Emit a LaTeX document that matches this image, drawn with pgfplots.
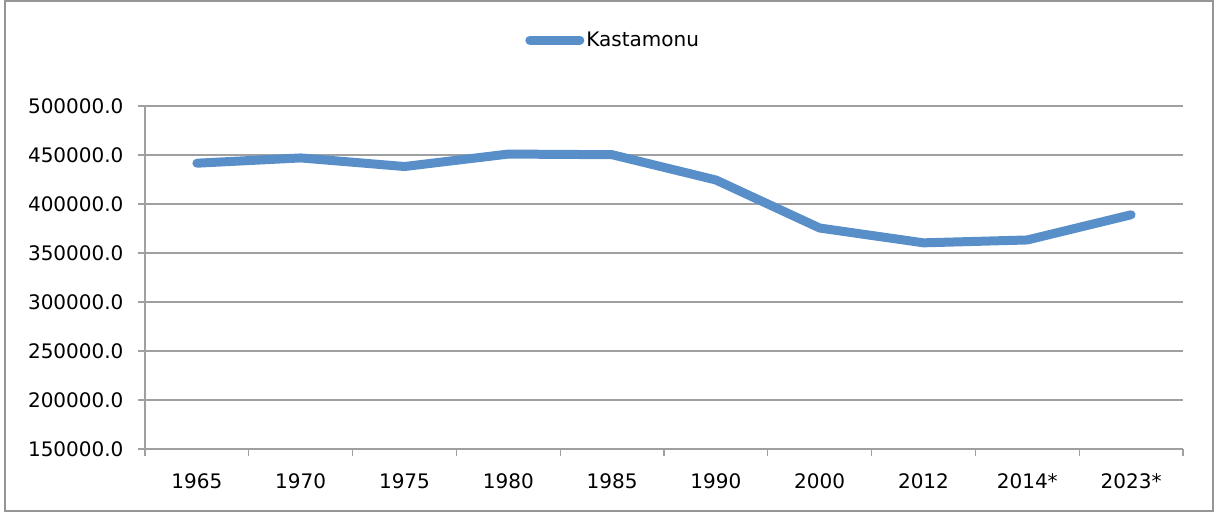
\documentclass[border=0pt]{standalone}
\usepackage{pgfplots}
\pgfplotsset{compat=1.18}
\usepackage{fontspec}
\setmainfont{DejaVu Sans}
\definecolor{lineblue}{RGB}{89,143,200}
\definecolor{gridgray}{RGB}{160,160,160}
\definecolor{framegray}{RGB}{150,150,150}

\begin{document}
\begin{tikzpicture}
\useasboundingbox (0bp,0bp) rectangle (1216bp,516bp);
\draw[framegray, line width=1.2bp] (5bp,5bp) rectangle (1213bp,515bp);
\begin{axis}[
    at={(145bp,67bp)}, anchor=south west,
    scale only axis, width=1038bp, height=343bp,
    xmin=-0.5, xmax=9.5,
    ymin=150000, ymax=500000,
    scaled y ticks=false,
    ytick={150000,200000,250000,300000,350000,400000,450000,500000},
    yticklabels={150000.0,200000.0,250000.0,300000.0,350000.0,400000.0,450000.0,500000.0},
    % category boundaries carry the tick marks
    xtick={-0.5,0.5,1.5,2.5,3.5,4.5,5.5,6.5,7.5,8.5,9.5},
    xticklabels={},
    % category names sit between them
    extra x ticks={0,1,2,3,4,5,6,7,8,9},
    extra x tick labels={1965,1970,1975,1980,1985,1990,2000,2012,2014*,2023*},
    extra x tick style={major tick length=0pt, grid=none},
    axis x line*=bottom, axis y line*=left,
    axis line style={gridgray, line width=1.2bp, -},
    tick align=outside,
    major tick length=7bp,
    tick style={gridgray, line width=1.2bp},
    ymajorgrids, grid style={gridgray, line width=1.2bp},
    tick label style={font=\fontsize{20bp}{24bp}\selectfont, black},
    yticklabel style={xshift=-11bp},
    xticklabel style={yshift=-21bp},
    clip=false,
    legend style={draw=none, fill=none, at={(0.451,1.192)}, anchor=center,
      font=\fontsize{20bp}{24bp}\selectfont, inner sep=0pt,
      cells={anchor=west}},
    legend image code/.code={\draw[#1, line width=9bp, line cap=round] (0bp,0bp) -- (50bp,0bp);},
]
\addplot[lineblue, line width=9bp, line cap=round, line join=round] coordinates {
  (0,441638) (1,447000) (2,438243) (3,450950) (4,450300)
  (5,424500) (6,375476) (7,360366) (8,363300) (9,389000)
};
\addlegendentry{Kastamonu}
\end{axis}
\end{tikzpicture}
\end{document}
